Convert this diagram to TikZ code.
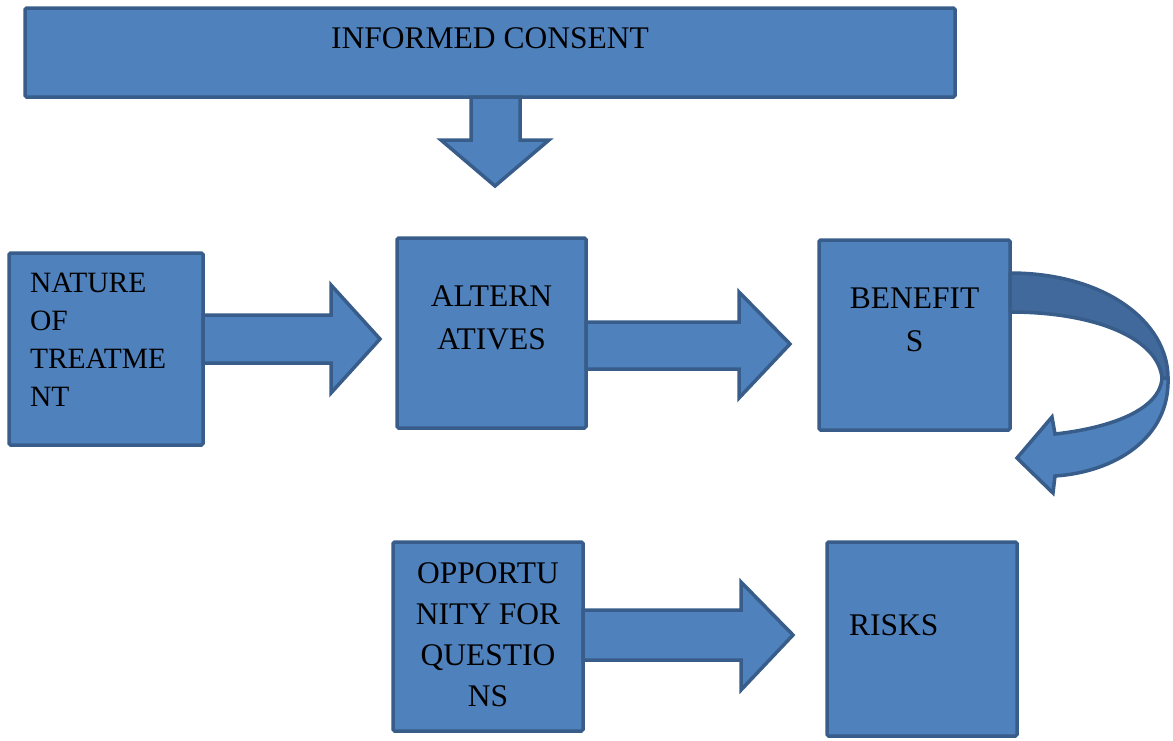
\documentclass[tikz,border=0pt]{standalone}
\usepackage{fontspec}
\setmainfont{Liberation Serif}
\newfontfamily\tnr{Liberation Serif}
\definecolor{boxfill}{HTML}{4F81BD}
\definecolor{boxline}{HTML}{385D8A}
\definecolor{backfill}{HTML}{41699B}
\tikzset{
  box/.style={draw=boxline, fill=boxfill, line width=3.5pt, rounded corners=1.5pt,
    inner sep=0pt, outer sep=0pt, anchor=north west, font=\tnr},
  barrow/.style={draw=boxline, fill=boxfill, line width=3.5pt, line join=miter},
  backband/.style={draw=boxline, fill=backfill, line width=3.5pt, line join=round},
}
\begin{document}
\begin{tikzpicture}[x=1pt, y=-1pt]
\useasboundingbox (0,0) rectangle (1173,740);
% boxes
\node[box] (top) at (25,8) {\parbox[c][89pt][t]{930pt}{\centering\tnr\fontsize{31.5}{42}\selectfont\rule{0pt}{40pt}INFORMED CONSENT}};
\node[box] (nat) at (9,253) {\parbox[c][192pt][t]{194pt}{\raggedright\leftskip=21pt\tnr\fontsize{29.5}{38.3}\selectfont\rule{0pt}{39pt}NATURE\\OF\\TREATME\\NT}};
\node[box] (alt) at (397,238) {\parbox[c][190pt][t]{189pt}{\centering\tnr\fontsize{31.5}{43}\selectfont\rule{0pt}{68pt}ALTERN\\ATIVES}};
\node[box] (ben) at (819,240) {\parbox[c][190pt][t]{191pt}{\centering\tnr\fontsize{31.5}{43}\selectfont\rule{0pt}{68pt}BENEFIT\\S}};
\node[box] (opp) at (393,542) {\parbox[c][189pt][t]{190pt}{\centering\tnr\fontsize{31.5}{41.3}\selectfont\rule{0pt}{41pt}OPPORTU\\NITY FOR\\QUESTIO\\NS}};
\node[box] (risk) at (827,542) {\parbox[c][194pt][t]{190pt}{\raggedright\leftskip=22pt\tnr\fontsize{31.5}{42}\selectfont\rule{0pt}{93pt}RISKS}};
% block arrows
\draw[barrow] (471,0 |- top.south) -- (471,140) -- (441,140) -- (495,186) -- (549,140) -- (520,140) -- (520,0 |- top.south) -- cycle;
\draw[barrow] (nat.east |- 0,315) -- (331,315) -- (331,285) -- (380,339) -- (331,393) -- (331,363) -- (nat.east |- 0,363) -- cycle;
\draw[barrow] (alt.east |- 0,322) -- (739,322) -- (739,292) -- (790,344) -- (739,398) -- (739,369) -- (alt.east |- 0,369) -- cycle;
\draw[barrow] (opp.east |- 0,610) -- (741,610) -- (741,582) -- (793,635) -- (741,690) -- (741,660) -- (opp.east |- 0,660) -- cycle;
% curved arrow
\coordinate (ctip) at (1017,458);
\draw[backband] (ben.east |- 0,273) .. controls (1105,273) and (1168,322) .. (1168,378) -- (1162,378) .. controls (1158,338) and (1095,312) .. (ben.east |- 0,312) -- cycle;
\draw[barrow] (1168,378) .. controls (1170,438) and (1115,472) .. (1055,476) -- (1053,493) -- (ctip) -- (1052,417) -- (1055,434) .. controls (1110,428) and (1160,410) .. (1162,378) -- cycle;
\end{tikzpicture}
\end{document}
